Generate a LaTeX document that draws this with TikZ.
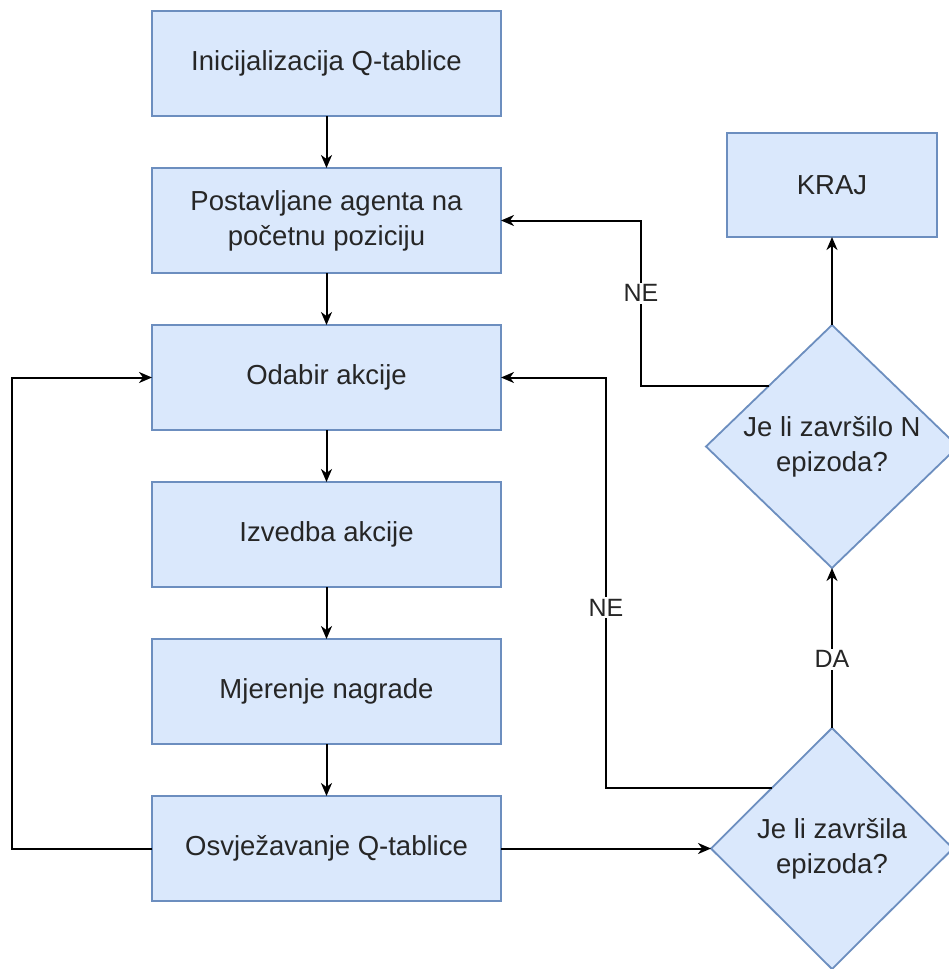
\documentclass[tikz,border=0pt]{standalone}
\usepackage{fontspec}
\setmainfont{Liberation Sans}
\usetikzlibrary{shapes.geometric,arrows.meta,calc}
\definecolor{boxfill}{HTML}{DAE8FC}
\definecolor{boxline}{HTML}{6C8EBF}
\definecolor{txt}{HTML}{262626}
\begin{document}
\begin{tikzpicture}[x=1pt,y=-1pt,
  box/.style={draw=boxline, fill=boxfill, line width=1.8pt, rectangle,
    minimum width=349pt, minimum height=105pt, inner sep=0pt, outer sep=0pt,
    font=\fontsize{27.5}{35}\selectfont, align=center, text=txt},
  dec/.style={draw=boxline, fill=boxfill, line width=1.8pt, diamond,
    inner sep=0pt, outer sep=0pt,
    font=\fontsize{27.5}{35}\selectfont, align=center, text=txt},
  arr/.style={draw=black, line width=2pt, -{Stealth[length=13pt,width=11pt,inset=4pt]}},
  lbl/.style={fill=white, inner sep=2pt, font=\fontsize{25}{30}\selectfont, text=txt}
]
\useasboundingbox (0,0) rectangle (948,969);
\fill[white] (0,0) rectangle (948,969);

\node[box] (b1) at (326.5,63.5) {Inicijalizacija Q-tablice};
\node[box] (b2) at (326.5,220.5) {Postavljane agenta na\\početnu poziciju};
\node[box] (b3) at (326.5,377.5) {Odabir akcije};
\node[box] (b4) at (326.5,534.5) {Izvedba akcije};
\node[box] (b5) at (326.5,691.5) {Mjerenje nagrade};
\node[box] (b6) at (326.5,848.5) {Osvježavanje Q-tablice};
\node[box, minimum width=210pt, minimum height=104pt] (kraj) at (832,185) {KRAJ};
\node[dec, minimum width=252pt, minimum height=243pt] (d1) at (832,446.5) {Je li završilo N\\epizoda?};
\node[dec, minimum width=242pt, minimum height=241pt] (d2) at (832,848.5) {Je li završila\\epizoda?};

\coordinate (lft) at (12,0);
\coordinate (k1) at (641,0);
\coordinate (k2) at (606,0);

\draw[arr] (b1.south) -- (b2.north);
\draw[arr] (b2.south) -- (b3.north);
\draw[arr] (b3.south) -- (b4.north);
\draw[arr] (b4.south) -- (b5.north);
\draw[arr] (b5.south) -- (b6.north);
\draw[arr] (b6.east) -- (d2.west);
\draw[arr] (b6.west) -- (b6.west -| lft) -- (b3.west -| lft) -- (b3.west);
\draw[arr] (d2.north) -- node[lbl, pos=0.43] {DA} (d1.south);
\draw[arr] (d1.north) -- (kraj.south);
\draw[arr] (d1.north west) -- (d1.north west -| k1) -- node[lbl, pos=0.56] {NE} (b2.east -| k1) -- (b2.east);
\draw[arr] (d2.north west) -- (d2.north west -| k2) -- node[lbl, pos=0.44] {NE} (b3.east -| k2) -- (b3.east);
\end{tikzpicture}
\end{document}
